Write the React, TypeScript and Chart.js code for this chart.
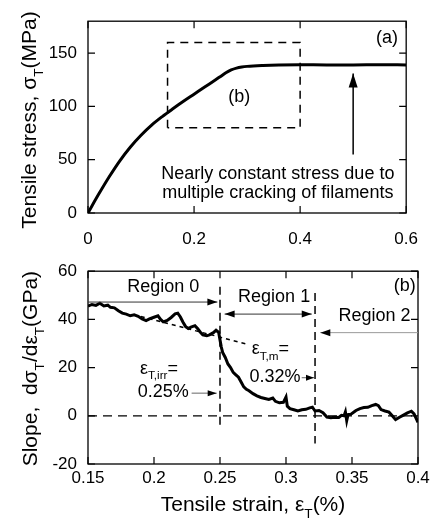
import React, { useEffect, useRef } from "react";
import { Chart, registerables } from "chart.js";
Chart.register(...registerables);

// ---------- Panel (a): stress-strain ----------
const stressStrain = [0, 0.02, 0.04, 0.06, 0.08, 0.1, 0.12, 0.14, 0.16, 0.18, 0.2, 0.22, 0.24, 0.25, 0.26, 0.27, 0.28, 0.29, 0.3, 0.33, 0.36, 0.4, 0.45, 0.5, 0.55, 0.6];
const stressValues = [0, 17.5, 34, 49, 62, 73, 82.5, 90.5, 97.8, 104.8, 111.5, 118.2, 124.8, 128.2, 131.6, 134.3, 136, 137, 137.6, 138.5, 139, 139.2, 139, 139, 139.2, 139];
const topXTicks = [0, 0.2, 0.4, 0.6];
const topYTicks = [0, 50, 100, 150];
const boxStrain = [0.15, 0.15, 0.4, 0.4, 0.15];
const boxStress = [80, 160, 160, 80, 80];

// ---------- Panel (b): slope ----------
const slopeStrain = [
  0.15, 0.153, 0.156, 0.159, 0.162, 0.165, 0.167, 0.17, 0.173, 0.176, 0.179, 0.182, 0.185, 0.188, 0.191, 0.194, 0.197, 0.2, 0.203, 0.205, 0.207, 0.21, 0.213, 0.216, 0.218, 0.22, 0.222, 0.224, 0.226, 0.228, 0.231, 0.233, 0.235, 0.237, 0.24, 0.242, 0.245, 0.247, 0.249,
  0.25, 0.251, 0.252, 0.254, 0.256, 0.258, 0.26, 0.262, 0.264, 0.266, 0.268, 0.27, 0.272, 0.275, 0.278, 0.281, 0.284, 0.287, 0.29, 0.292, 0.295, 0.298, 0.3, 0.301, 0.303, 0.306, 0.309, 0.312, 0.315, 0.318, 0.32, 0.322, 0.325, 0.328, 0.331, 0.334, 0.337, 0.34, 0.342, 0.344, 0.345, 0.346, 0.347, 0.349, 0.352, 0.353, 0.356, 0.359, 0.362, 0.365, 0.368, 0.37, 0.372, 0.375, 0.378, 0.381, 0.383, 0.386, 0.389, 0.392, 0.395, 0.397, 0.4,
];
const slopeValues = [
  45.5, 46.2, 45.8, 46.7, 45.6, 45.9, 45.0, 44.8, 43.6, 42.6, 42.2, 41.5, 41.9, 41.3, 40.2, 39.5, 40.3, 40.9, 41.5, 40.0, 39.0, 39.6, 40.8, 42.3, 42.6, 41.0, 38.8, 37.0, 36.2, 36.8, 37.4, 36.2, 34.8, 33.6, 33.2, 33.6, 34.5, 35.5, 34.6,
  31.5, 28.5, 26.3, 24.2, 21.5, 20.0, 18.0, 17.0, 16.0, 14.0, 12.0, 11.0, 10.4, 9.2, 8.3, 7.6, 7.2, 6.8, 7.4, 6.0, 5.4, 5.6, 7.8, 4.0, 3.0, 2.5, 2.0, 2.5, 2.7, 3.3, 3.6, 2.0, 2.2, 1.3, -0.5, -0.8, -0.6, -0.7, 0.2, 0.0, 1.6, -2.0, 0.5, 0.6, 1.8, 2.2, 3.0, 3.4, 3.5, 4.2, 4.7, 4.2, 2.6, 2.0, 1.5, -0.3, -1.6, -0.6, 0.3, 1.2, 1.9, 0.8, -2.7,
];
const bottomXTicks = [0.15, 0.2, 0.25, 0.3, 0.35, 0.4];
const bottomYTicks = [-20, 0, 20, 40, 60];
const irrLineStrain = [0.25, 0.25];
const irrLineSlope = [53.5, -4];
const mLineStrain = [0.322, 0.322];
const mLineSlope = [51, -11.5];
const zeroLineStrain = [0.15, 0.4];
const zeroLineSlope = [0, 0];
const fitLineStrain = [0.19, 0.27];
const fitLineSlope = [41.2, 29.8];

const FAMILY = "'Liberation Sans', Arial, Helvetica, sans-serif";
const font = (s: number) => `${s}px ${FAMILY}`;

type Part = [string, boolean];

function richWidth(ctx: CanvasRenderingContext2D, parts: Part[], size: number) {
  let w = 0;
  for (const [t, sub] of parts) {
    ctx.font = font(sub ? size * 0.65 : size);
    w += ctx.measureText(t).width;
  }
  return w;
}

function drawRich(
  ctx: CanvasRenderingContext2D,
  parts: Part[],
  x: number,
  y: number,
  size: number,
  align: "left" | "center",
  rotate = false
) {
  ctx.save();
  ctx.translate(x, y);
  if (rotate) ctx.rotate(-Math.PI / 2);
  const w = richWidth(ctx, parts, size);
  let cx = align === "center" ? -w / 2 : 0;
  ctx.textBaseline = "alphabetic";
  ctx.textAlign = "left";
  ctx.fillStyle = "#000";
  for (const [t, sub] of parts) {
    const s = sub ? size * 0.65 : size;
    ctx.font = font(s);
    ctx.fillText(t, cx, sub ? size * 0.3 : 0);
    cx += ctx.measureText(t).width;
  }
  ctx.restore();
}

function drawText(ctx: CanvasRenderingContext2D, t: string, x: number, y: number, size: number, align: CanvasTextAlign = "center") {
  ctx.save();
  ctx.font = font(size);
  ctx.fillStyle = "#000";
  ctx.textAlign = align;
  ctx.textBaseline = "middle";
  ctx.fillText(t, x, y);
  ctx.restore();
}

function head(ctx: CanvasRenderingContext2D, fx: number, fy: number, tx: number, ty: number, hl: number, hw: number) {
  const ang = Math.atan2(ty - fy, tx - fx);
  ctx.beginPath();
  ctx.moveTo(tx, ty);
  ctx.lineTo(tx - hl * Math.cos(ang) + (hw / 2) * Math.sin(ang), ty - hl * Math.sin(ang) - (hw / 2) * Math.cos(ang));
  ctx.lineTo(tx - hl * Math.cos(ang) - (hw / 2) * Math.sin(ang), ty - hl * Math.sin(ang) + (hw / 2) * Math.cos(ang));
  ctx.closePath();
  ctx.fill();
}

function arrow(
  ctx: CanvasRenderingContext2D,
  x1: number, y1: number, x2: number, y2: number,
  o: { both?: boolean; color?: string; lw?: number; hl?: number; hw?: number }
) {
  const hl = o.hl ?? 10, hw = o.hw ?? 7;
  ctx.save();
  ctx.strokeStyle = o.color ?? "#000";
  ctx.lineWidth = o.lw ?? 1;
  ctx.beginPath();
  ctx.moveTo(x1, y1);
  ctx.lineTo(x2, y2);
  ctx.stroke();
  ctx.fillStyle = "#000";
  head(ctx, x1, y1, x2, y2, hl, hw);
  if (o.both) head(ctx, x2, y2, x1, y1, hl, hw);
  ctx.restore();
}

function drawFrame(chart: any, xt: number[], yt: number[]) {
  const { ctx, chartArea: a, scales } = chart;
  const x = scales.x, y = scales.y;
  const tl = 7;
  ctx.save();
  ctx.strokeStyle = "#000";
  ctx.lineWidth = 1.3;
  ctx.strokeRect(a.left, a.top, a.right - a.left, a.bottom - a.top);
  ctx.lineWidth = 1.2;
  ctx.beginPath();
  for (const v of xt) {
    const px = x.getPixelForValue(v);
    ctx.moveTo(px, a.bottom);
    ctx.lineTo(px, a.bottom - tl);
    ctx.moveTo(px, a.top);
    ctx.lineTo(px, a.top + tl);
  }
  for (const v of yt) {
    const py = y.getPixelForValue(v);
    ctx.moveTo(a.left, py);
    ctx.lineTo(a.left + tl, py);
    ctx.moveTo(a.right, py);
    ctx.lineTo(a.right - tl, py);
  }
  ctx.stroke();
  ctx.restore();
}

const topPlugin = {
  id: "topDecor",
  afterDraw(chart: any) {
    const { ctx, chartArea: a, scales } = chart;
    const X = (v: number) => scales.x.getPixelForValue(v);
    const Y = (v: number) => scales.y.getPixelForValue(v);
    drawFrame(chart, topXTicks, topYTicks);
    drawText(ctx, "(a)", X(0.564), Y(164.5), 18);
    drawText(ctx, "(b)", X(0.285), Y(109), 18);
    arrow(ctx, X(0.5), Y(55), X(0.5), Y(131), { lw: 1.5, hl: 14, hw: 9 });
    drawText(ctx, "Nearly constant stress due to", X(0.358), Y(36.6), 18);
    drawText(ctx, "multiple cracking of filaments", X(0.358), Y(18.3), 18);
    drawRich(ctx, [["Tensile stress, σ", false], ["T", true], ["(MPa)", false]], a.left - 59 + 21 * 0.35, 120, 21, "center", true);
  },
};

const bottomPlugin = {
  id: "bottomDecor",
  afterDraw(chart: any) {
    const { ctx, chartArea: a, scales } = chart;
    const X = (v: number) => scales.x.getPixelForValue(v);
    const Y = (v: number) => scales.y.getPixelForValue(v);
    drawFrame(chart, bottomXTicks, bottomYTicks);
    drawText(ctx, "(b)", X(0.39), Y(53.7), 18);
    drawText(ctx, "Region 0", X(0.207), Y(53.3), 18);
    arrow(ctx, X(0.15), Y(47.2), X(0.248), Y(47.2), { color: "#333", lw: 1, hl: 10, hw: 7 });
    drawText(ctx, "Region 1", X(0.291), Y(49.3), 18);
    arrow(ctx, X(0.2535), Y(42.2), X(0.3195), Y(42.2), { both: true, color: "#333", lw: 1, hl: 10, hw: 7 });
    drawText(ctx, "Region 2", X(0.367), Y(41.6), 18);
    arrow(ctx, X(0.4), Y(34.5), X(0.326), Y(34.5), { color: "#999", lw: 1, hl: 10, hw: 7 });
    drawRich(ctx, [["ε", false], ["T,irr", true], ["=", false]], X(0.1894), Y(17.5), 18, "left");
    drawText(ctx, "0.25%", X(0.207), Y(9.8), 18);
    arrow(ctx, X(0.2285), Y(9.4), X(0.2475), Y(9.4), { color: "#666", lw: 1, hl: 9, hw: 6 });
    drawRich(ctx, [["ε", false], ["T,m", true], ["=", false]], X(0.274), Y(25.6), 18, "left");
    drawText(ctx, "0.32%", X(0.2917), Y(16.2), 18);
    arrow(ctx, X(0.3119), Y(15.8), X(0.3212), Y(15.8), { color: "#666", lw: 1, hl: 8, hw: 6 });
    drawRich(ctx, [["Slope,  dσ", false], ["T", true], ["/dε", false], ["T", true], ["(GPa)", false]], a.left - 58 + 21 * 0.35, (a.top + a.bottom) / 2 + 1, 21, "center", true);
    drawRich(ctx, [["Tensile strain, ε", false], ["T", true], ["(%)", false]], (a.left + a.right) / 2, 254 + 21 * 0.35, 21, "center");
  },
};

const pts = (xs: number[], ys: number[]) => xs.map((x, i) => ({ x, y: ys[i] }));

function axisX(min: number, max: number, ticks: number[], pad: number, height: number) {
  return {
    type: "linear" as const,
    min,
    max,
    grid: { display: false, drawTicks: false },
    border: { display: false },
    afterBuildTicks: (s: any) => {
      s.ticks = ticks.map((v) => ({ value: v }));
    },
    afterFit: (s: any) => {
      s.height = height;
    },
    ticks: {
      font: { family: FAMILY, size: 17 },
      color: "#000",
      padding: pad,
      maxRotation: 0,
      autoSkip: false,
      callback: (v: any) => String(Math.round(Number(v) * 1000) / 1000),
    },
  };
}

function axisY(min: number, max: number, ticks: number[]) {
  return {
    type: "linear" as const,
    min,
    max,
    grid: { display: false, drawTicks: false },
    border: { display: false },
    afterBuildTicks: (s: any) => {
      s.ticks = ticks.map((v) => ({ value: v }));
    },
    afterFit: (s: any) => {
      s.width = 88;
    },
    ticks: {
      font: { family: FAMILY, size: 17 },
      color: "#000",
      padding: 11,
      autoSkip: false,
      callback: (v: any) => String(v),
    },
  };
}

const common = {
  responsive: false,
  animation: false as const,
  plugins: { legend: { display: false }, tooltip: { enabled: false } },
  elements: { point: { radius: 0 } },
};

export default function App() {
  const topRef = useRef<HTMLCanvasElement>(null);
  const botRef = useRef<HTMLCanvasElement>(null);

  useEffect(() => {
    const c1 = new Chart(topRef.current!, {
      type: "line",
      data: {
        datasets: [
          { data: pts(boxStrain, boxStress), borderColor: "#000", borderWidth: 1.5, borderDash: [8, 6], pointRadius: 0, tension: 0 },
          { data: pts(stressStrain, stressValues), borderColor: "#000", borderWidth: 3, pointRadius: 0, cubicInterpolationMode: "monotone" },
        ],
      },
      options: {
        ...common,
        layout: { padding: { left: 0, right: 17, top: 16, bottom: 0 } },
        scales: { x: axisX(0, 0.6, topXTicks, 16, 37), y: axisY(0, 180, topYTicks) },
      } as any,
      plugins: [topPlugin],
    });
    const c2 = new Chart(botRef.current!, {
      type: "line",
      data: {
        datasets: [
          { data: pts(zeroLineStrain, zeroLineSlope), borderColor: "#000", borderWidth: 1.3, borderDash: [9, 6], pointRadius: 0 },
          { data: pts(irrLineStrain, irrLineSlope), borderColor: "#000", borderWidth: 1.5, borderDash: [8, 5], pointRadius: 0 },
          { data: pts(mLineStrain, mLineSlope), borderColor: "#000", borderWidth: 1.5, borderDash: [8, 5], pointRadius: 0 },
          { data: pts(fitLineStrain, fitLineSlope), borderColor: "#000", borderWidth: 1.5, borderDash: [4, 4], pointRadius: 0 },
          { data: pts(slopeStrain, slopeValues), borderColor: "#000", borderWidth: 3, pointRadius: 0, tension: 0 },
        ],
      },
      options: {
        ...common,
        layout: { padding: { left: 0, right: 16, top: 16, bottom: 0 } },
        scales: { x: axisX(0.15, 0.4, bottomXTicks, 4, 57), y: axisY(-20, 60, bottomYTicks) },
      } as any,
      plugins: [bottomPlugin],
    });
    return () => {
      c1.destroy();
      c2.destroy();
    };
  }, []);

  return (
    <div style={{ position: "absolute", left: 0, top: 0, width: 434, height: 521, background: "#fff" }}>
      <canvas ref={topRef} width={434} height={250} style={{ position: "absolute", left: 0, top: 0 }} />
      <canvas ref={botRef} width={434} height={271} style={{ position: "absolute", left: 0, top: 250 }} />
    </div>
  );
}
